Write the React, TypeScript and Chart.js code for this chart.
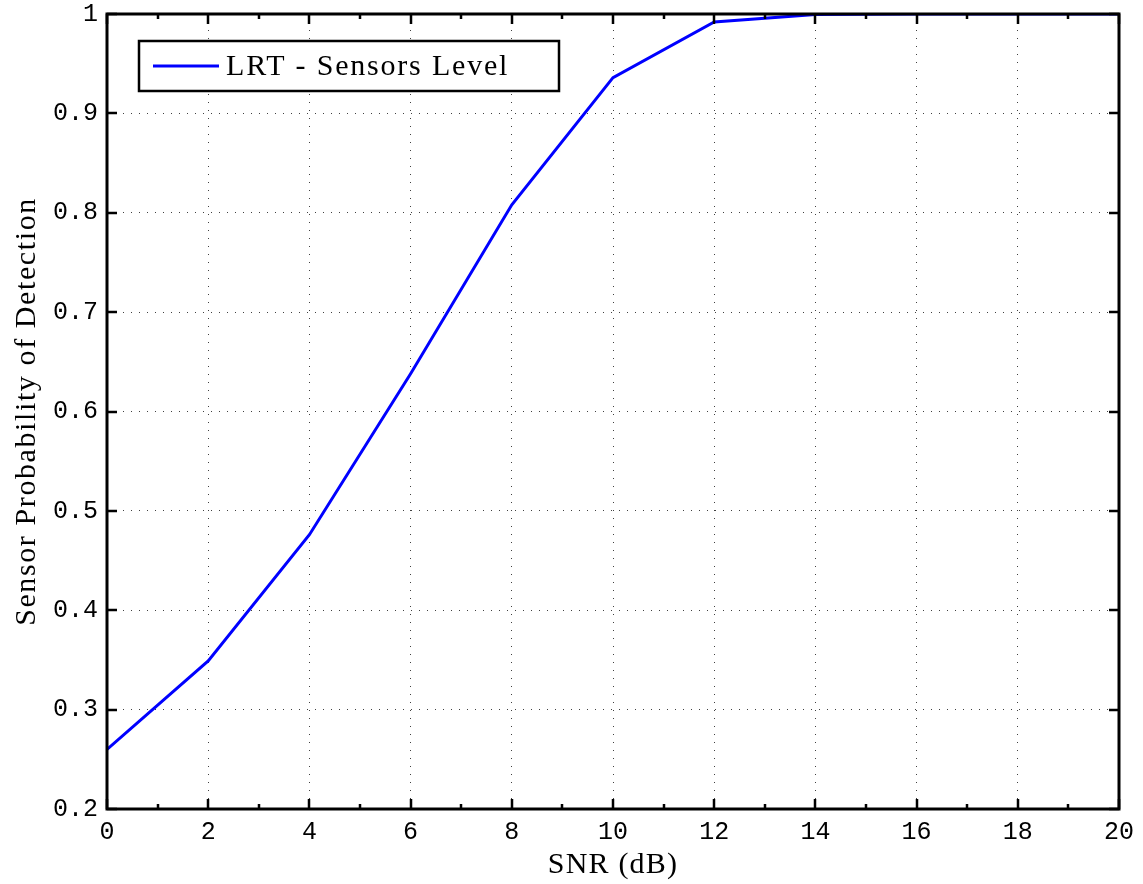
import React, { useEffect, useRef } from "react";
import { Chart, registerables } from "chart.js";

Chart.register(...registerables);

const snrDb: number[] = [0, 2, 4, 6, 8, 10, 12, 14, 16, 18, 20];
const pdSensor: number[] = [0.26, 0.349, 0.476, 0.638, 0.808, 0.936, 0.992, 0.9995, 1.0, 1.0, 1.0];
const seriesLabel = "LRT - Sensors Level";
const xTitle = "SNR (dB)";
const yTitle = "Sensor Probability of Detection";
const xMajorTicks: number[] = [0, 2, 4, 6, 8, 10, 12, 14, 16, 18, 20];
const xMinorTicks: number[] = [1, 3, 5, 7, 9, 11, 13, 15, 17, 19];
const yMajorTicks: number[] = [0.2, 0.3, 0.4, 0.5, 0.6, 0.7, 0.8, 0.9, 1.0];

const W = 1143;
const H = 884;
const SERIF = "'Liberation Serif', 'DejaVu Serif', serif";
const MONO = "'Liberation Mono', 'DejaVu Sans Mono', monospace";

const framePlugin = {
  id: "matlabFrame",
  afterDatasetsDraw(chart: any) {
    const { ctx, chartArea, scales } = chart;
    const { left, right, top, bottom } = chartArea;
    const xs = scales.x;
    const ys = scales.y;
    ctx.save();
    ctx.strokeStyle = "#000";
    ctx.lineCap = "butt";
    ctx.lineWidth = 2.5;
    xMajorTicks.forEach((v) => {
      const px = Math.round(xs.getPixelForValue(v));
      ctx.beginPath();
      ctx.moveTo(px, bottom);
      ctx.lineTo(px, bottom - 10);
      ctx.moveTo(px, top);
      ctx.lineTo(px, top + 10);
      ctx.stroke();
    });
    xMinorTicks.forEach((v) => {
      const px = Math.round(xs.getPixelForValue(v));
      ctx.beginPath();
      ctx.moveTo(px, bottom);
      ctx.lineTo(px, bottom - 5);
      ctx.moveTo(px, top);
      ctx.lineTo(px, top + 5);
      ctx.stroke();
    });
    yMajorTicks.forEach((v) => {
      const py = Math.round(ys.getPixelForValue(v));
      ctx.beginPath();
      ctx.moveTo(left, py);
      ctx.lineTo(left + 10, py);
      ctx.moveTo(right, py);
      ctx.lineTo(right - 10, py);
      ctx.stroke();
    });
    ctx.lineWidth = 3;
    ctx.strokeRect(left, top, right - left, bottom - top);

    // axis titles
    ctx.fillStyle = "#000";
    ctx.font = `30px ${SERIF}`;
    ctx.textAlign = "center";
    ctx.textBaseline = "middle";
    (ctx as any).letterSpacing = "1.2px";
    ctx.fillText(xTitle, (left + right) / 2, 865);
    ctx.save();
    (ctx as any).letterSpacing = "1.6px";
    ctx.translate(27, (top + bottom) / 2);
    ctx.rotate(-Math.PI / 2);
    ctx.fillText(yTitle, 0, 0);
    ctx.restore();

    // legend box
    const bx = left + 32;
    const by = top + 27;
    const bw = 420;
    const bh = 50;
    ctx.fillStyle = "#fff";
    ctx.fillRect(bx, by, bw, bh);
    ctx.lineWidth = 2.5;
    ctx.strokeStyle = "#000";
    ctx.strokeRect(bx, by, bw, bh);
    const ds = chart.data.datasets[0];
    ctx.strokeStyle = ds.borderColor;
    ctx.lineWidth = 3;
    ctx.beginPath();
    ctx.moveTo(bx + 14, by + 25);
    ctx.lineTo(bx + 80, by + 25);
    ctx.stroke();
    ctx.fillStyle = "#000";
    ctx.font = `30px ${SERIF}`;
    (ctx as any).letterSpacing = "1.8px";
    ctx.textAlign = "left";
    ctx.textBaseline = "middle";
    ctx.fillText(ds.label, bx + 87, by + 26);
    ctx.restore();
  },
};

export default function App() {
  const ref = useRef<HTMLCanvasElement | null>(null);
  useEffect(() => {
    if (!ref.current) return;
    const chart = new Chart(ref.current, {
      type: "line",
      data: {
        datasets: [
          {
            label: seriesLabel,
            data: snrDb.map((x, i) => ({ x, y: pdSensor[i] })),
            borderColor: "#0000ff",
            backgroundColor: "#0000ff",
            borderWidth: 3,
            pointRadius: 0,
            tension: 0,
            fill: false,
          },
        ],
      },
      options: {
        animation: false,
        responsive: false,
        devicePixelRatio: 1,
        layout: { padding: { top: 14, right: 24, left: 0, bottom: 0 } },
        plugins: {
          legend: { display: false },
          tooltip: { enabled: false },
        },
        scales: {
          x: {
            type: "linear",
            min: 0,
            max: 20,
            afterBuildTicks: (s: any) => {
              s.ticks = xMajorTicks.map((v) => ({ value: v }));
            },
            afterFit: (s: any) => {
              s.height = 75;
              s.paddingLeft = 0;
              s.paddingRight = 0;
            },
            ticks: {
              font: { family: MONO, size: 25 },
              color: "#000",
              padding: 8,
              maxRotation: 0,
              callback: (v: any) => String(v),
            },
            grid: {
              drawTicks: false,
              color: "rgba(0,0,0,0.75)",
              lineWidth: 1,
            },
            border: { display: false, dash: [1, 7] },
          },
          y: {
            type: "linear",
            min: 0.2,
            max: 1,
            afterBuildTicks: (s: any) => {
              s.ticks = yMajorTicks.map((v) => ({ value: v }));
            },
            afterFit: (s: any) => {
              s.width = 107;
              s.paddingTop = 0;
              s.paddingBottom = 0;
            },
            ticks: {
              font: { family: MONO, size: 25 },
              color: "#000",
              padding: 9,
              callback: (v: any) => String(Number(Number(v).toFixed(1))),
            },
            grid: {
              drawTicks: false,
              color: "rgba(0,0,0,0.75)",
              lineWidth: 1,
            },
            border: { display: false, dash: [1, 7] },
          },
        },
      },
      plugins: [framePlugin],
    } as any);
    return () => chart.destroy();
  }, []);
  return (
    <div style={{ position: "absolute", left: 0, top: 0, width: W, height: H, background: "#fff" }}>
      <canvas ref={ref} width={W} height={H} style={{ display: "block" }} />
    </div>
  );
}
